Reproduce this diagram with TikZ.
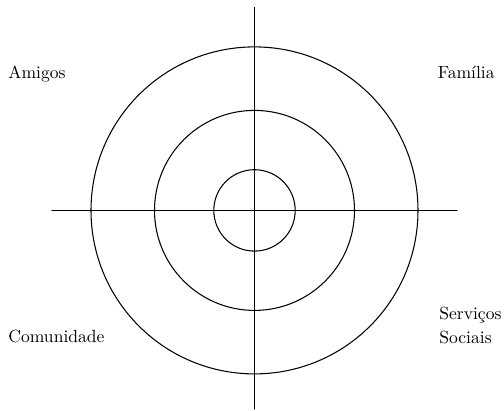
\documentclass[tikz,border=0pt]{standalone}
\usepackage{tkz-euclide}

\begin{document}
\begin{tikzpicture}
\tkzSetUpLine[line width=0.6pt,color=black]

\tkzDefPoints{0/0/O,0.814/0/A,2/0/B,3.27/0/C}
\tkzDefPoints{0/4.058/N,0/-3.972/S,-4.05/0/W,4.05/0/E}

\useasboundingbox (-5.09,-3.992) rectangle (4.99,4.208);

\tkzDrawSegments[line width=0.6pt,color=black](N,S W,E)

\tkzDrawCircle[line width=0.6pt,color=black](O,A)
\tkzDrawCircle[line width=0.6pt,color=black](O,B)
\tkzDrawCircle[line width=0.6pt,color=black](O,C)

\node[anchor=base west,inner sep=0pt] (amigos) at (-4.93,2.628) {Amigos};
\node[anchor=base east,inner sep=0pt] (familia) at (4.81,2.628) {Família};
\node[anchor=base west,inner sep=0pt] (comunidade) at (-4.93,-2.632) {Comunidade};
\node[anchor=base west,inner sep=0pt,align=left] (servicos) at (3.69,-2.652) {Serviços\\[1.5pt]Sociais};

\end{tikzpicture}
\end{document}
